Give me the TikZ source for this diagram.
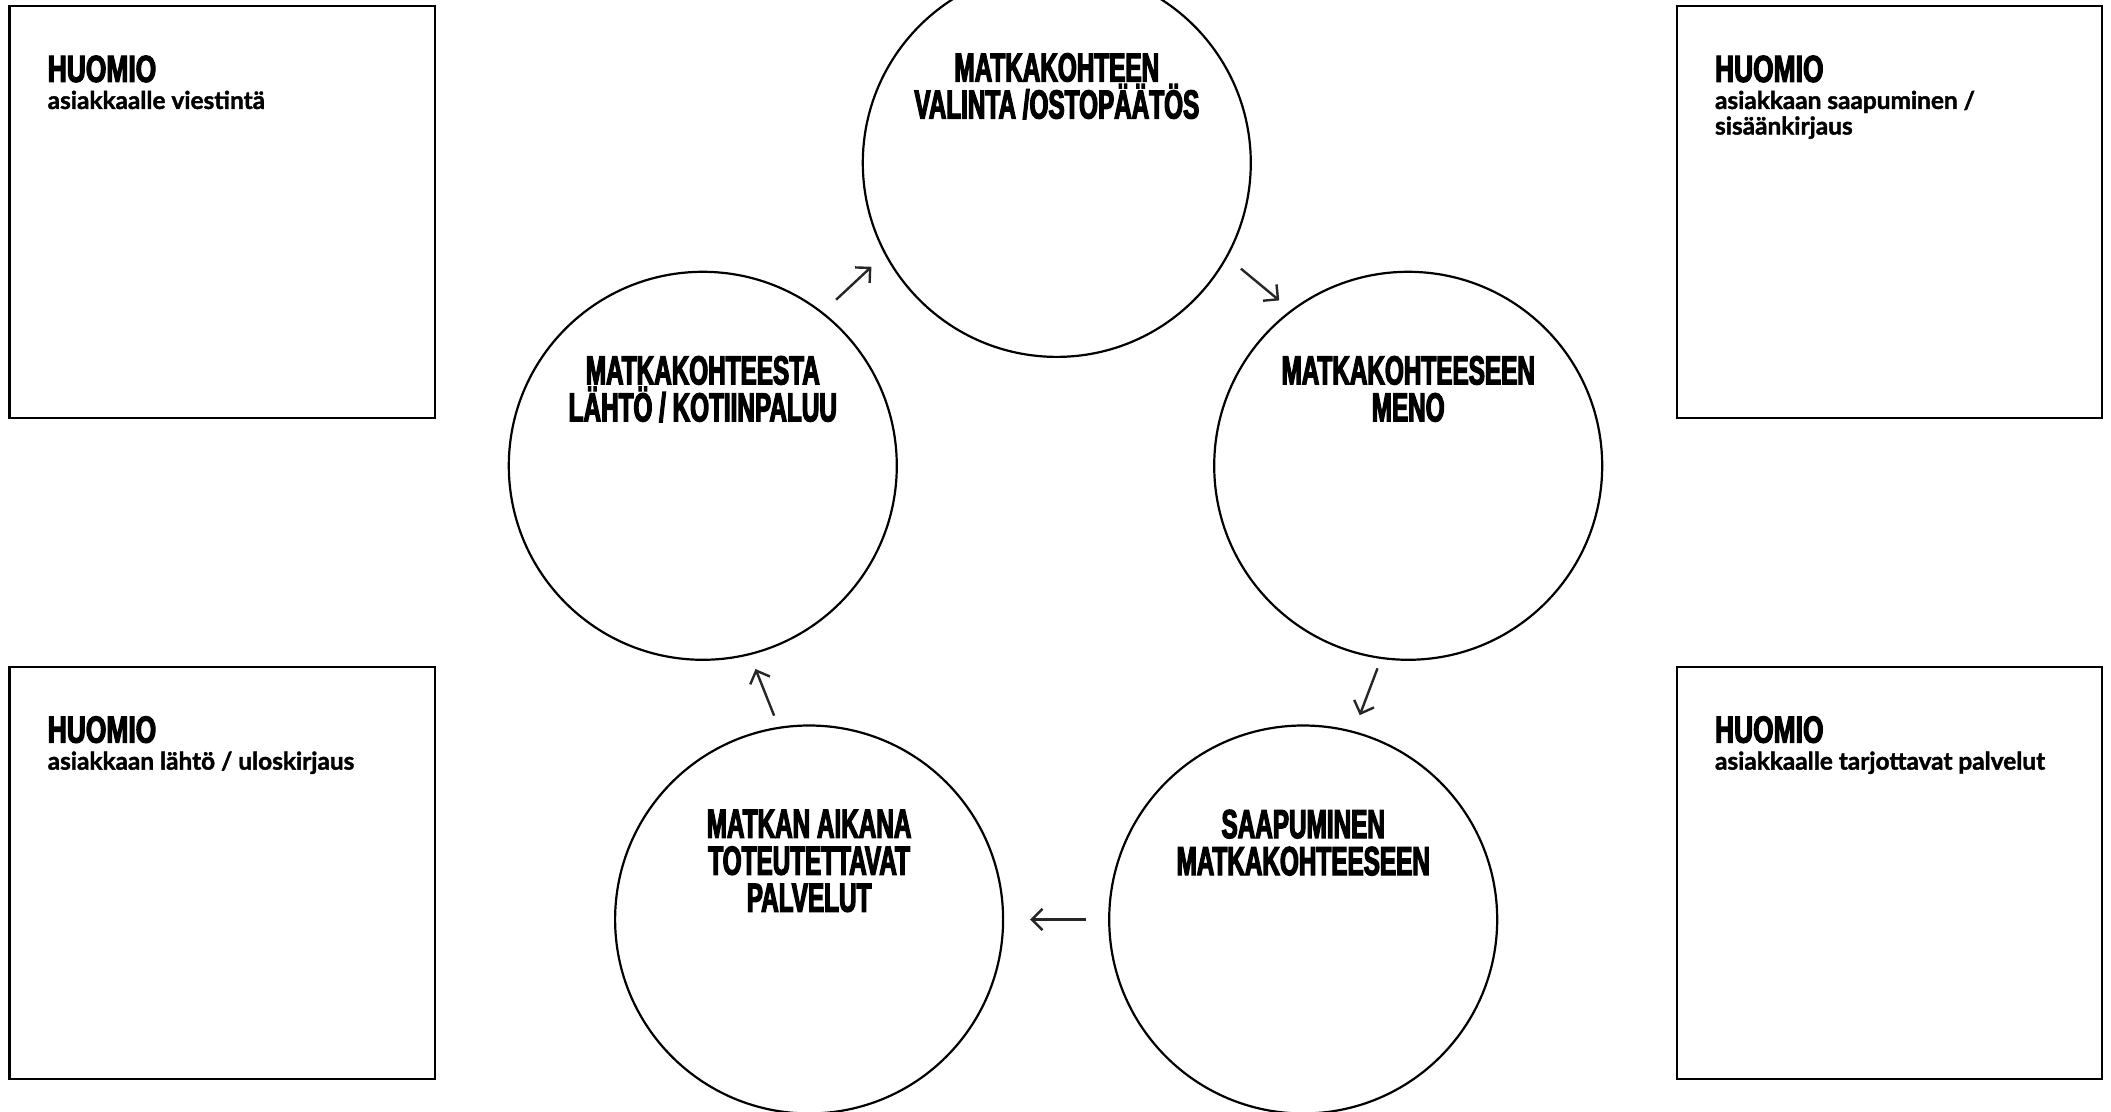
\documentclass[tikz,border=0pt]{standalone}
\usepackage{fontspec}
\setmainfont{Lato}[FakeBold=1.6]
\newfontfamily\headfont{Liberation Sans}[FakeStretch=0.6, FakeBold=3]
\newfontfamily\huomiofont{Liberation Sans}[FakeStretch=0.7, FakeBold=3]
\usetikzlibrary{arrows.meta, positioning}
\definecolor{arrowgray}{HTML}{262626}

\begin{document}
\begin{tikzpicture}[
    x=0.5pt, y=-0.5pt,
    stage/.style={circle, draw, line width=1.1pt, minimum size=194pt, inner sep=0pt},
    stagetitle/.style={inner sep=0pt, align=center, font=\headfont\bfseries\fontsize{20.25}{18.5}\selectfont},
    notebox/.style={rectangle, draw, line width=1.1pt, minimum width=212.75pt, minimum height=206pt, inner sep=0pt},
    notehead/.style={inner sep=0pt, font=\huomiofont\bfseries\fontsize{18.85}{20}\selectfont},
    notetext/.style={inner sep=0pt, anchor=base west, align=left, font=\bfseries\fontsize{12.2}{12.8}\selectfont},
    arrow/.style={-{Straight Barb[length=5.3pt, width=10.6pt]}, line width=1.2pt, draw=arrowgray},
]
    \useasboundingbox (0,0) rectangle (2111,1112);

    % Stages
    \node[stage] at (1056.8,162.9) (valinta) {};
    \node[stage] at (1408.2,465.8) (meno) {};
    \node[stage] at (1303.2,919.5) (saapuminen) {};
    \node[stage] at (809.1,919.5) (aikana) {};
    \node[stage] at (702.8,465.8) (lahto) {};

    \node[stagetitle, below=42.5pt of valinta.north] (valinta-title) {MATKAKOHTEEN\\VALINTA /OSTOPÄÄTÖS};
    \node[stagetitle, below=42.5pt of meno.north] (meno-title) {MATKAKOHTEESEEN\\MENO};
    \node[stagetitle, below=42.5pt of saapuminen.north] (saapuminen-title) {SAAPUMINEN\\MATKAKOHTEESEEN};
    \node[stagetitle, below=42.5pt of aikana.north] (aikana-title) {MATKAN AIKANA\\TOTEUTETTAVAT\\PALVELUT};
    \node[stagetitle, below=42.5pt of lahto.north] (lahto-title) {MATKAKOHTEESTA\\LÄHTÖ / KOTIINPALUU};

    \draw[arrow, shorten <=9pt, shorten >=9pt] (lahto.52) -- (valinta.208);
    \draw[arrow, shorten <=8.75pt, shorten >=7.5pt] (valinta.331) -- (meno.127);
    \draw[arrow, shorten <=5pt, shorten >=8.5pt] (meno.262) -- (saapuminen.75);
    \draw[arrow, shorten <=11pt, shorten >=13pt] (saapuminen.180) -- (aikana.0);
    \draw[arrow, shorten <=6pt, shorten >=7.5pt] (aikana.99) -- (lahto.284);

    % Notes
    \node[notebox] at (222.2,212.3) (viestinta) {};
    \node[notebox] at (1889.5,212.3) (sisaan) {};
    \node[notebox] at (222.2,873) (ulos) {};
    \node[notebox] at (1889.5,873) (palvelut) {};

    \node[notehead, below right=25pt and 19.5pt of viestinta.north west] (viestinta-head) {HUOMIO};
    \node[notehead, below right=25pt and 19.5pt of sisaan.north west] (sisaan-head) {HUOMIO};
    \node[notehead, below right=25pt and 19.5pt of ulos.north west] (ulos-head) {HUOMIO};
    \node[notehead, below right=25pt and 19.5pt of palvelut.north west] (palvelut-head) {HUOMIO};

    \node[notetext] at ([yshift=-13.5pt]viestinta-head.base west) (viestinta-text) {asiakkaalle viestintä};
    % two lines: the base is on the last one
    \node[notetext] at ([yshift=-26.3pt]sisaan-head.base west) (sisaan-text) {asiakkaan saapuminen /\\sisäänkirjaus};
    \node[notetext] at ([yshift=-13.5pt]ulos-head.base west) (ulos-text) {asiakkaan lähtö / uloskirjaus};
    \node[notetext] at ([yshift=-13.5pt]palvelut-head.base west) (palvelut-text) {asiakkaalle tarjottavat palvelut};
\end{tikzpicture}
\end{document}
